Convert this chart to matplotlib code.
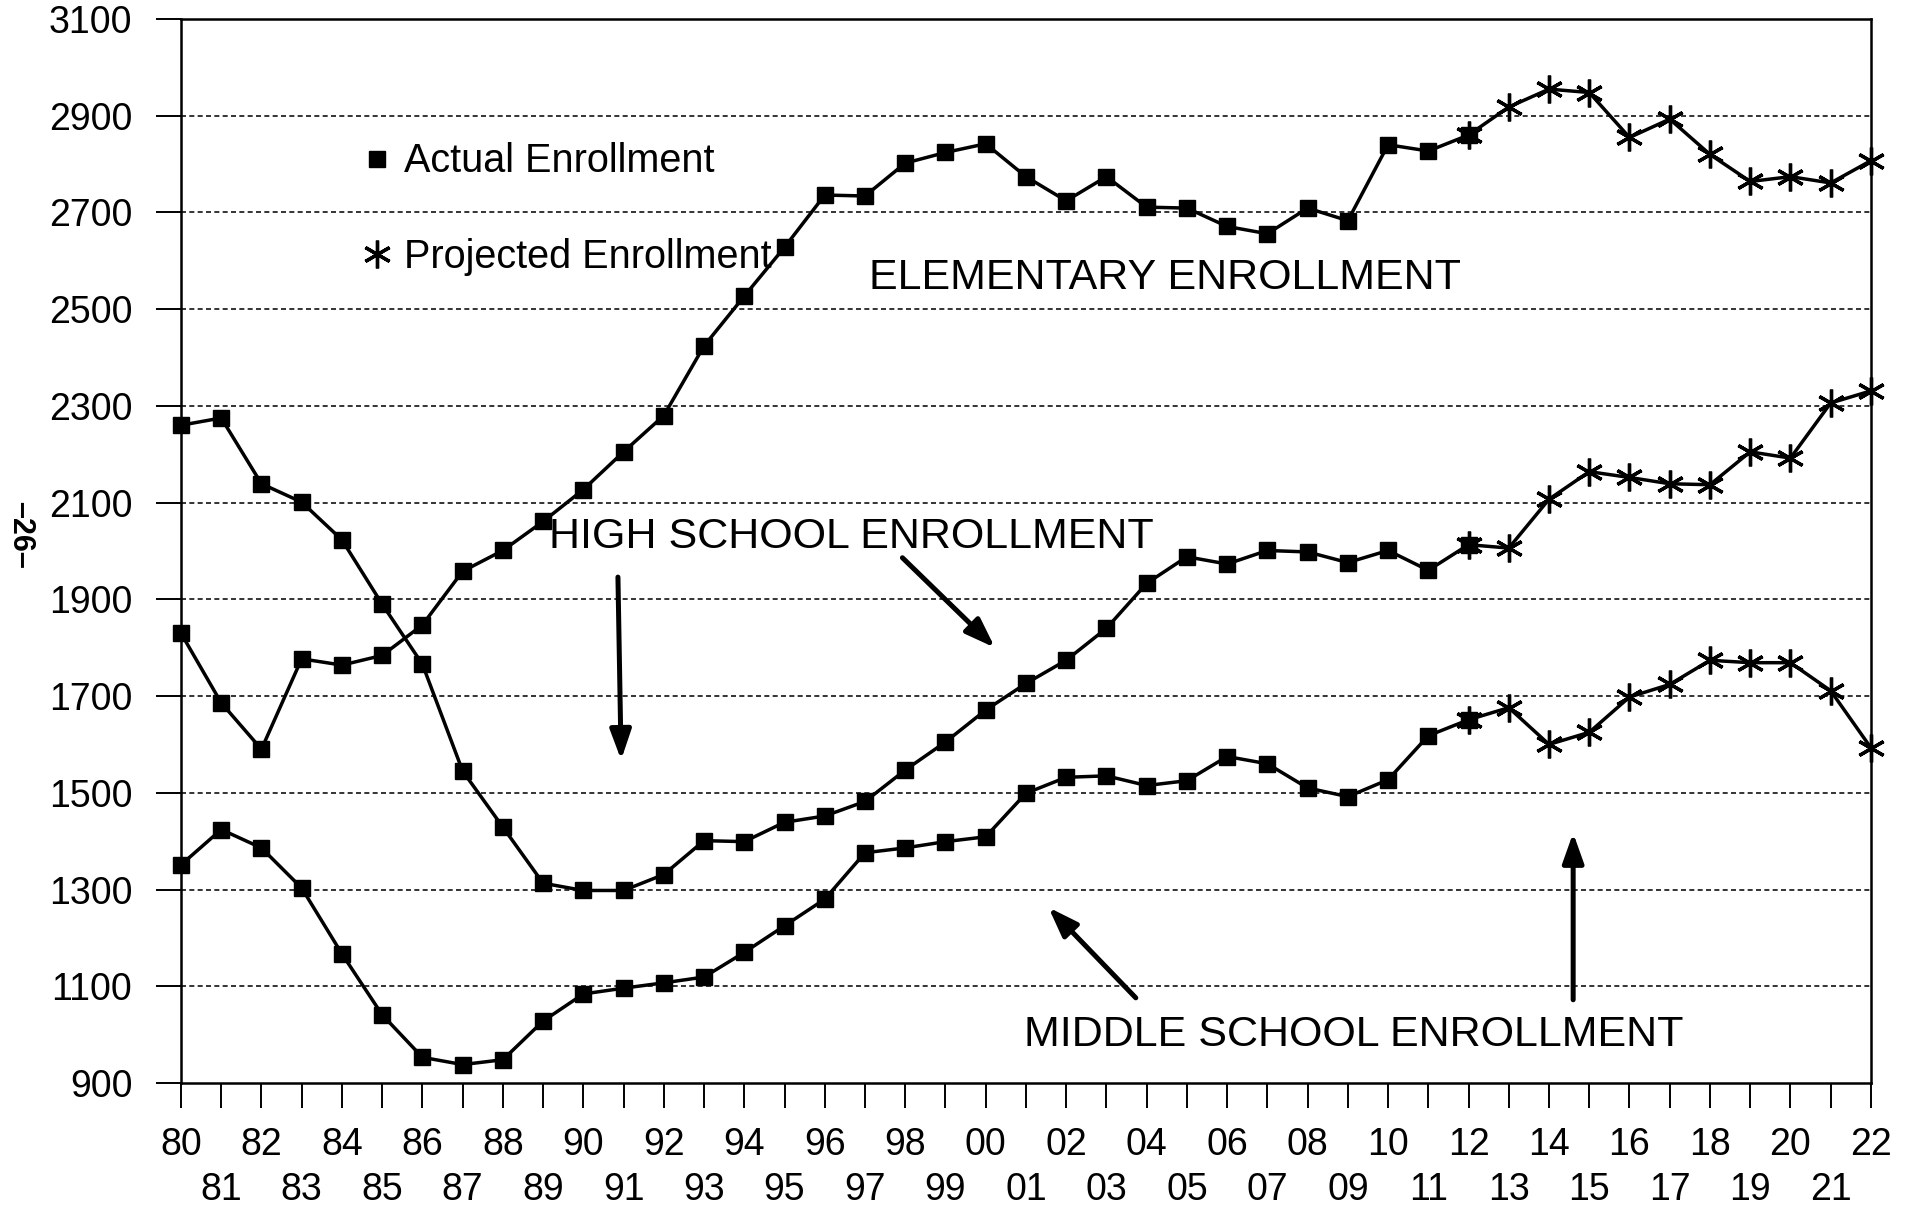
import matplotlib
matplotlib.use("Agg")
import matplotlib.pyplot as plt
from matplotlib.lines import Line2D
from matplotlib.patches import ArrowStyle

plt.rcParams['font.family'] = ['Liberation Sans', 'DejaVu Sans']

# school years 1980 .. 2022
years = list(range(1980, 2023))
projection_start = 2012

elementary = [1830, 1686, 1590, 1777, 1764, 1784, 1847, 1958, 2001, 2061,
              2127, 2205, 2280, 2424, 2527, 2628, 2736, 2734, 2802, 2824,
              2842, 2774, 2724, 2774, 2711, 2709, 2671, 2656, 2709, 2683,
              2840, 2827, 2860, 2918, 2955, 2948, 2855, 2893, 2820, 2764,
              2774, 2761, 2807]

high_school = [2260, 2275, 2139, 2101, 2023, 1890, 1766, 1545, 1429, 1313,
               1298, 1298, 1331, 1401, 1399, 1439, 1452, 1482, 1547, 1605,
               1671, 1726, 1774, 1840, 1933, 1988, 1973, 2001, 1998, 1976,
               2001, 1960, 2013, 2006, 2107, 2164, 2152, 2139, 2137, 2205,
               2192, 2306, 2331]

middle_school = [1351, 1424, 1386, 1303, 1167, 1041, 953, 938, 948, 1028,
                 1084, 1096, 1107, 1119, 1170, 1225, 1280, 1376, 1386, 1399,
                 1409, 1499, 1532, 1535, 1515, 1525, 1575, 1560, 1510, 1492,
                 1527, 1618, 1651, 1676, 1600, 1625, 1698, 1724, 1774, 1769,
                 1769, 1711, 1593]

y_ticks = list(range(900, 3101, 200))

labels = [
    ("ELEMENTARY ENROLLMENT", 1997.1, 2565),
    ("HIGH SCHOOL ENROLLMENT", 1989.15, 2029),
    ("MIDDLE SCHOOL ENROLLMENT", 2000.95, 999),
]
# (tail x, tail y, head x, head y)
arrows = [
    (1990.86, 1946, 1990.94, 1568),
    (1997.93, 1986, 2000.23, 1800),
    (2003.73, 1076, 2001.56, 1263),
    (2014.6, 1072, 2014.6, 1417),
]

fig = plt.figure(figsize=(19.13, 12.10), dpi=100)
ax = fig.add_axes([0.0946, 0.105, 0.8834, 0.8793])

split = years.index(projection_start)
star = (6, 2, 0)
for series in [elementary, high_school, middle_school]:
    ax.plot(years, series, color='black', lw=2.5, zorder=3)
    ax.plot(years[:split + 1], series[:split + 1], ls='none', marker='s',
            ms=11.5, color='black', zorder=4, clip_on=False)
    ax.plot(years[split:], series[split:], ls='none', marker=star,
            ms=20, mew=2.4, color='black', zorder=5, clip_on=False)

ax.set_xlim(1980, 2022)
ax.set_ylim(900, 3100)
ax.set_yticks(y_ticks)
ax.set_yticklabels([str(v) for v in y_ticks])

even = [y for y in years if y % 2 == 0]
odd = [y for y in years if y % 2 == 1]
ax.set_xticks(even)
ax.set_xticklabels(['%02d' % (y % 100) for y in even])
ax.set_xticks(odd, minor=True)
ax.set_xticklabels(['%02d' % (y % 100) for y in odd], minor=True)

ax.tick_params(axis='x', which='major', direction='out', length=18, width=1.4,
               pad=14, labelsize=27)
ax.tick_params(axis='x', which='minor', direction='out', length=18, width=1.4,
               pad=46, labelsize=27)
ax.tick_params(axis='y', direction='out', length=18, width=1.4, pad=17,
               labelsize=27)

for v in y_ticks[1:-1]:
    ax.axhline(v, color='#111111', lw=1.2, ls=(0, (3, 2)), zorder=1)

for s in ax.spines.values():
    s.set_linewidth(1.8)

for text, x, y in labels:
    ax.text(x, y, text, fontsize=31, ha='left', va='center')

for x0, y0, x1, y1 in arrows:
    ax.annotate('', xy=(x1, y1), xytext=(x0, y0),
                arrowprops=dict(arrowstyle=ArrowStyle('-|>', head_length=0.45, head_width=0.16),
                                mutation_scale=40, lw=3.6, color='black',
                                shrinkA=0, shrinkB=0))

handles = [Line2D([], [], ls='none', marker='s', ms=11.5, color='black'),
           Line2D([], [], ls='none', marker=star, ms=20, mew=2.4, color='black')]
ax.legend(handles, ['Actual Enrollment', 'Projected Enrollment'],
          loc='upper left', bbox_to_anchor=(0.1065, 0.884), frameon=False,
          fontsize=28.5, handlelength=0.8, handletextpad=0.3,
          labelspacing=1.45, borderaxespad=0, borderpad=0)

fig.text(20 / 1913, 1 - 535 / 1210, '\u201326\u2013', rotation=-90,
         fontsize=22, fontweight='bold', ha='center', va='center')

fig.savefig('out.png', dpi=100)
